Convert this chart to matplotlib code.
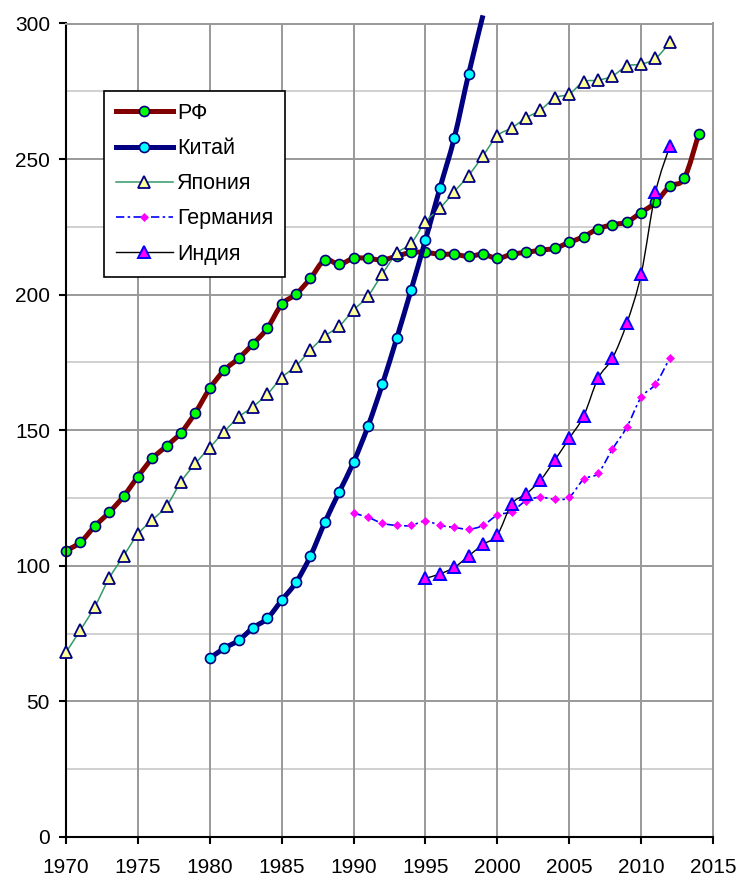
import numpy as np
import matplotlib
matplotlib.use("Agg")
import matplotlib.pyplot as plt
from matplotlib.path import Path
from matplotlib.patches import PathPatch
from matplotlib.lines import Line2D

plt.rcParams['font.family'] = ['Liberation Sans', 'DejaVu Sans']

# --- data ---
rf_years = list(range(1970, 2015))
rf_vals = [105.6, 108.7, 114.6, 119.7, 125.6, 132.9, 139.6, 144.2, 149.1, 156.5,
           165.4, 172.1, 176.5, 181.8, 187.6, 196.4, 200.2, 206.0, 212.8, 211.2,
           213.4, 213.4, 212.8, 214.2, 215.6, 215.6, 214.9, 214.9, 214.1, 214.9,
           213.4, 214.9, 215.6, 216.4, 217.1, 219.3, 221.4, 224.3, 225.8, 226.8,
           230.3, 234.0, 240.0, 242.9, 259.1]

china_years = list(range(1980, 2000))
china_vals = [65.9, 69.6, 72.5, 77.1, 80.6, 87.3, 93.9, 103.6, 116.0, 127.2,
              138.2, 151.4, 166.9, 183.9, 201.7, 220.1, 239.2, 257.7, 281.3, 303.0]

japan_years = list(range(1970, 2013))
japan_vals = [68.1, 76.3, 84.9, 95.4, 103.6, 111.7, 116.9, 122.1, 131.0, 137.8,
              143.6, 149.5, 154.8, 158.7, 163.3, 169.4, 173.7, 179.6, 184.7, 188.4,
              194.3, 199.5, 207.6, 215.2, 218.9, 226.9, 231.8, 238.0, 243.9, 251.2,
              258.6, 261.5, 265.2, 268.1, 272.6, 274.0, 278.5, 279.1, 280.6, 284.3,
              285.0, 287.1, 293.0]

germany_years = list(range(1990, 2013))
germany_vals = [119.4, 117.9, 115.7, 114.9, 114.9, 116.6, 114.9, 114.2, 113.5, 114.9,
                118.7, 120.0, 124.0, 125.3, 124.5, 125.3, 131.9, 134.1, 143.0, 151.1,
                162.1, 167.0, 176.7]

india_years = list(range(1995, 2013))
india_vals = [95.4, 97.0, 99.4, 103.6, 107.9, 111.4, 122.8, 126.5, 131.6, 139.0,
              147.0, 155.2, 169.1, 176.5, 189.4, 207.5, 237.7, 254.8]

labels = ['РФ', 'Китай', 'Япония', 'Германия', 'Индия']
x_ticks = list(range(1970, 2016, 5))
y_ticks = list(range(0, 301, 50))


def smooth_path(xs, ys):
    """Smoothed line like the spreadsheet one (Bezier through every point)"""
    pts = np.column_stack([xs, ys]).astype(float)
    n = len(pts)
    verts = [pts[0]]
    codes = [Path.MOVETO]
    for i in range(n - 1):
        p0 = pts[max(i - 1, 0)]
        p1 = pts[i]
        p2 = pts[i + 1]
        p3 = pts[min(i + 2, n - 1)]
        verts += [p1 + (p2 - p0) / 6.0, p2 - (p3 - p1) / 6.0, p2]
        codes += [Path.CURVE4] * 3
    return Path(verts, codes)


fig = plt.figure(figsize=(7.41, 8.81), dpi=100)
ax = fig.add_axes([66 / 741, 1 - 837 / 881, (713 - 66) / 741, (837 - 23.5) / 881])

ax.set_xlim(1970, 2015)
ax.set_ylim(0, 300)

# grid
for yv in range(25, 300, 50):
    ax.axhline(yv, color='#d0d0d0', lw=1.4, zorder=0)
for yv in range(50, 300, 50):
    ax.axhline(yv, color='#999999', lw=1.4, zorder=0.5)
for xv in range(1975, 2015, 5):
    ax.axvline(xv, color='#999999', lw=1.4, zorder=0.5)

for s in ['top', 'right']:
    ax.spines[s].set_color('#999999')
    ax.spines[s].set_linewidth(1.4)
for s in ['left', 'bottom']:
    ax.spines[s].set_color('black')
    ax.spines[s].set_linewidth(1.5)

ax.set_xticks(x_ticks)
ax.set_yticks(y_ticks)
ax.tick_params(axis='both', direction='out', length=5, width=1.5, labelsize=15, colors='black')
ax.tick_params(axis='x', pad=10)
ax.tick_params(axis='y', pad=6.5)

series = [
    dict(x=rf_years, y=rf_vals, color='#800000', lw=3.6, ls='-', marker='o', ms=7.2,
         mfc='#00ff00', mec='#000080', mew=1.2),
    dict(x=china_years, y=china_vals, color='#000080', lw=3.6, ls='-', marker='o', ms=7.2,
         mfc='#00ffff', mec='#000080', mew=1.2),
    dict(x=japan_years, y=japan_vals, color='#339966', lw=1.1, ls='-', marker='^', ms=8.5,
         mfc='#ffff99', mec='#000080', mew=1.3),
    dict(x=germany_years, y=germany_vals, color='#0000ff', lw=1.2, ls=(0, (5, 2, 1.5, 2)), marker='D',
         ms=4.4, mfc='#ff00ff', mec='#ff00ff', mew=0.5),
    dict(x=india_years, y=india_vals, color='#000000', lw=1.0, ls='-', marker='^', ms=9,
         mfc='#ff00ff', mec='#0000ff', mew=1.4),
]

handles = []
for k, s in enumerate(series):
    z = 2 + k
    patch = PathPatch(smooth_path(s['x'], s['y']), fill=False, edgecolor=s['color'],
                      lw=s['lw'], linestyle=s['ls'], zorder=z, clip_on=False,
                      capstyle='butt', joinstyle='round')
    ax.add_patch(patch)
    xs = np.array(s['x'])
    ys = np.array(s['y'])
    keep = ys <= 300
    ax.plot(xs[keep], ys[keep], linestyle='none', marker=s['marker'], ms=s['ms'],
            mfc=s['mfc'], mec=s['mec'], mew=s['mew'], zorder=z + 0.5, clip_on=False)
    handles.append(Line2D([], [], color=s['color'], lw=s['lw'], linestyle=s['ls'],
                          marker=s['marker'], ms=s['ms'], mfc=s['mfc'], mec=s['mec'],
                          mew=s['mew']))

leg = ax.legend(handles, labels, loc='upper left',
                bbox_to_anchor=(104 / 741, 1 - 91 / 881), bbox_transform=fig.transFigure,
                borderaxespad=0, fancybox=False, framealpha=1, edgecolor='black',
                fontsize=15.5, handlelength=2.65, handletextpad=0.2, labelspacing=0.66,
                borderpad=0.55, numpoints=1)
leg.get_frame().set_linewidth(1.2)
leg.set_zorder(20)

fig.savefig('out.png', dpi=100)
